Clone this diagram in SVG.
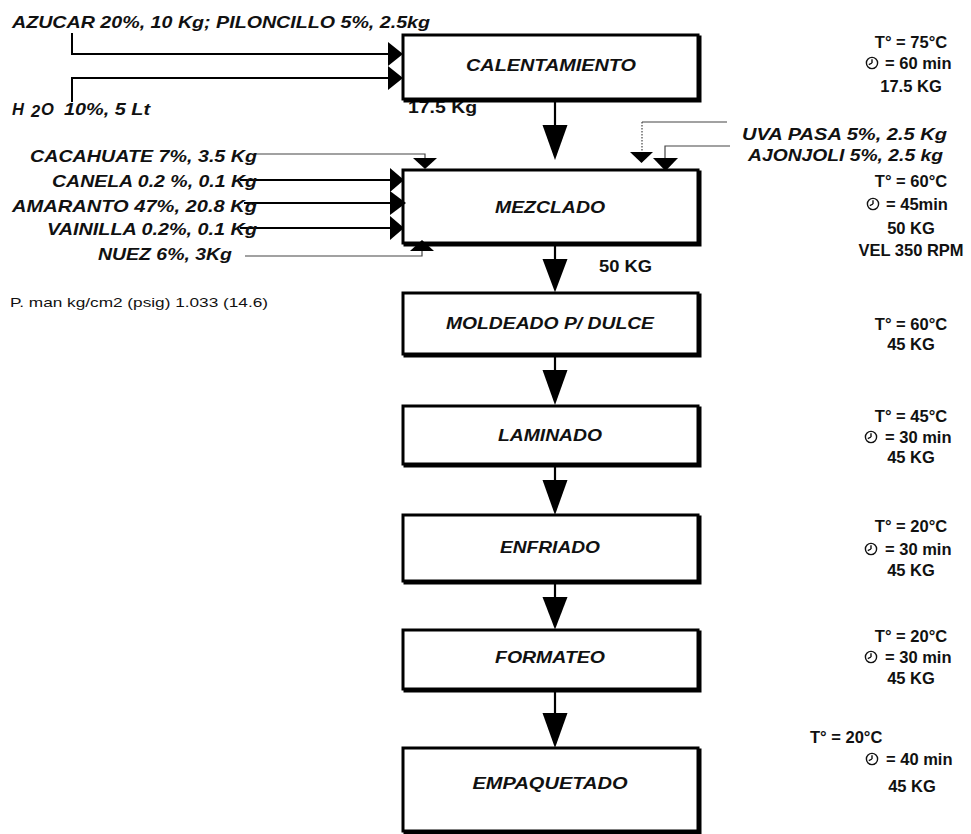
<svg xmlns="http://www.w3.org/2000/svg" xmlns:xlink="http://www.w3.org/1999/xlink" width="971" height="834" viewBox="0 0 971 834">
  <style>
    .bg { fill: #ffffff; }
    .frame { fill: #ffffff; stroke: #000; stroke-width: 3; }
    .shade { fill: none; stroke: #000; stroke-width: 3; }
    .title { font-family: "Liberation Sans", Arial, sans-serif; font-weight: bold; font-style: italic; font-size: 16px; fill: #111; text-anchor: middle; }
    .lbl { font-family: "Liberation Sans", Arial, sans-serif; font-weight: bold; font-style: italic; font-size: 16.5px; fill: #111; }
    .qty { font-family: "Liberation Sans", Arial, sans-serif; font-weight: bold; font-size: 16px; fill: #111; }
    .note { font-family: "Liberation Sans", Arial, sans-serif; font-weight: bold; font-size: 16.5px; fill: #111; text-anchor: middle; }
    .noteL { font-family: "Liberation Sans", Arial, sans-serif; font-weight: bold; font-size: 16.5px; fill: #111; }
    .small { font-family: "Liberation Sans", Arial, sans-serif; font-size: 13.5px; fill: #111; }
    .flow { stroke: #000; stroke-width: 2.2; fill: none; }
    .feed { stroke: #000; stroke-width: 2; fill: none; }
    .thin { stroke: #444; stroke-width: 1.2; fill: none; }
    .dot { stroke: #444; stroke-width: 1.2; fill: none; stroke-dasharray: 1.5 1.5; }
    .head { fill: #000; stroke: none; }
    .clock { fill: none; stroke: #111; stroke-width: 1.4; }
  </style>
  <defs>
    <polygon id="down" points="-12.5,0 12.5,0 0,35"/>
    <g id="clk" class="clock">
      <circle r="5.6"/>
      <path d="M0 0V-3.8M0 0L-3.2 1.7"/>
    </g>
  </defs>

  <rect class="bg" x="0" y="0" width="971" height="834"/>

  <!-- stream masses (drawn first so the block outline sits over the first one) -->
  <g id="masses">
    <text class="qty" x="408" y="113" textLength="69" lengthAdjust="spacingAndGlyphs">17.5 Kg</text>
    <text class="qty" x="599" y="272" textLength="53" lengthAdjust="spacingAndGlyphs">50 KG</text>
  </g>

  <!-- process blocks -->
  <g id="calentamiento">
    <rect class="shade" x="405" y="37" width="295" height="64"/>
    <rect class="frame" x="403" y="35" width="295" height="64"/>
    <text class="title" x="551" y="71" textLength="170" lengthAdjust="spacingAndGlyphs">CALENTAMIENTO</text>
  </g>
  <g id="mezclado">
    <rect class="shade" x="405" y="172" width="295" height="73"/>
    <rect class="frame" x="403" y="170" width="295" height="73"/>
    <text class="title" x="550" y="213" textLength="110" lengthAdjust="spacingAndGlyphs">MEZCLADO</text>
  </g>
  <g id="moldeado">
    <rect class="shade" x="405" y="295" width="295" height="61"/>
    <rect class="frame" x="403" y="293" width="295" height="61"/>
    <text class="title" x="550" y="329" textLength="208" lengthAdjust="spacingAndGlyphs">MOLDEADO P/ DULCE</text>
  </g>
  <g id="laminado">
    <rect class="shade" x="405" y="408" width="295" height="58"/>
    <rect class="frame" x="403" y="406" width="295" height="58"/>
    <text class="title" x="550" y="441" textLength="104" lengthAdjust="spacingAndGlyphs">LAMINADO</text>
  </g>
  <g id="enfriado">
    <rect class="shade" x="405" y="517" width="295" height="66"/>
    <rect class="frame" x="403" y="515" width="295" height="66"/>
    <text class="title" x="550" y="553" textLength="100" lengthAdjust="spacingAndGlyphs">ENFRIADO</text>
  </g>
  <g id="formateo">
    <rect class="shade" x="405" y="632" width="295" height="59"/>
    <rect class="frame" x="403" y="630" width="295" height="59"/>
    <text class="title" x="550" y="663" textLength="110" lengthAdjust="spacingAndGlyphs">FORMATEO</text>
  </g>
  <g id="empaquetado">
    <rect class="shade" x="405" y="750" width="295" height="83"/>
    <rect class="frame" x="403" y="748" width="295" height="83"/>
    <text class="title" x="550" y="789" textLength="155" lengthAdjust="spacingAndGlyphs">EMPAQUETADO</text>
  </g>

  <!-- connectors -->
  <g id="connectors">
    <!-- main flow -->
    <line class="flow" x1="555" y1="100" x2="555" y2="126"/>
    <use xlink:href="#down" class="head" transform="translate(555,125)"/>
    <line class="flow" x1="555" y1="244" x2="555" y2="260"/>
    <use xlink:href="#down" class="head" transform="translate(555,259) scale(1,0.95)"/>
    <line class="flow" x1="555" y1="355" x2="555" y2="371"/>
    <use xlink:href="#down" class="head" transform="translate(555,370)"/>
    <line class="flow" x1="555" y1="465" x2="555" y2="481"/>
    <use xlink:href="#down" class="head" transform="translate(555,480)"/>
    <line class="flow" x1="555" y1="582" x2="555" y2="598"/>
    <use xlink:href="#down" class="head" transform="translate(555,597) scale(1,0.93)"/>
    <line class="flow" x1="555" y1="690" x2="555" y2="714"/>
    <use xlink:href="#down" class="head" transform="translate(555,713)"/>

    <!-- feeds into heating -->
    <polyline class="feed" points="72,33 72,54 390,54"/>
    <polygon class="head" points="388,42 403,54 388,66"/>
    <polyline class="feed" points="72,102 72,78 390,78"/>
    <polygon class="head" points="388,66 403,78 388,90"/>

    <!-- feeds into mixing, left -->
    <polyline class="thin" points="253,154 425,154 425,159"/>
    <polygon class="head" points="413,158 437,158 425,169"/>
    <line class="feed" x1="240" y1="180" x2="392" y2="180"/>
    <polygon class="head" points="390,168 404,180 390,192"/>
    <line class="feed" x1="244" y1="203" x2="392" y2="203"/>
    <polygon class="head" points="390,191 406,203 390,215"/>
    <line class="feed" x1="240" y1="228" x2="392" y2="228"/>
    <polygon class="head" points="390,216 404,228 390,240"/>
    <polyline class="thin" points="245,256 422,256 422,250"/>
    <polygon class="head" points="410,251 434,251 422,240"/>

    <!-- feeds into mixing, right -->
    <line class="thin" x1="727" y1="122" x2="642" y2="122"/>
    <line class="dot" x1="642" y1="122" x2="642" y2="153"/>
    <polygon class="head" points="630,152 653,152 641.5,163"/>
    <polyline class="thin" points="730,146 665,146 665,159"/>
    <polygon class="head" points="653,158 678,158 665.5,171"/>
  </g>

  <!-- raw material labels -->
  <g id="inputs">
    <text class="lbl" x="12" y="28" textLength="418" lengthAdjust="spacingAndGlyphs">AZUCAR 20%, 10 Kg; PILONCILLO 5%, 2.5kg</text>
    <text class="lbl" x="12" y="115">H</text>
    <text class="lbl" x="31" y="117" font-size="11">2</text>
    <text class="lbl" x="41" y="115">O</text>
    <text class="lbl" x="64" y="115" textLength="86" lengthAdjust="spacingAndGlyphs">10%, 5 Lt</text>
    <text class="lbl" x="30" y="162" textLength="227" lengthAdjust="spacingAndGlyphs">CACAHUATE 7%, 3.5 Kg</text>
    <text class="lbl" x="52" y="187" textLength="205" lengthAdjust="spacingAndGlyphs">CANELA 0.2 %, 0.1 Kg</text>
    <text class="lbl" x="12" y="212" textLength="245" lengthAdjust="spacingAndGlyphs">AMARANTO 47%, 20.8 Kg</text>
    <text class="lbl" x="47" y="235" textLength="210" lengthAdjust="spacingAndGlyphs">VAINILLA 0.2%, 0.1 Kg</text>
    <text class="lbl" x="98" y="260" textLength="134" lengthAdjust="spacingAndGlyphs">NUEZ 6%, 3Kg</text>
    <text class="lbl" x="742" y="140" textLength="205" lengthAdjust="spacingAndGlyphs">UVA PASA 5%, 2.5 Kg</text>
    <text class="lbl" x="748" y="161" textLength="195" lengthAdjust="spacingAndGlyphs">AJONJOLI 5%, 2.5 kg</text>
    <text class="small" x="10" y="307" textLength="258" lengthAdjust="spacingAndGlyphs">P. man kg/cm2 (psig) 1.033 (14.6)</text>
  </g>

  <!-- operating conditions -->
  <g id="cond-calentamiento">
    <text class="note" x="911" y="48">T° = 75°C</text>
    <use xlink:href="#clk" x="872" y="63"/>
    <text class="noteL" x="885" y="69">= 60 min</text>
    <text class="note" x="911" y="92">17.5 KG</text>
  </g>
  <g id="cond-mezclado">
    <text class="note" x="911" y="187">T° = 60°C</text>
    <use xlink:href="#clk" x="873" y="204"/>
    <text class="noteL" x="886" y="210">= 45min</text>
    <text class="note" x="911" y="234">50 KG</text>
    <text class="note" x="911" y="256">VEL 350 RPM</text>
  </g>
  <g id="cond-moldeado">
    <text class="note" x="911" y="330">T° = 60°C</text>
    <text class="note" x="911" y="350">45 KG</text>
  </g>
  <g id="cond-laminado">
    <text class="note" x="911" y="422">T° = 45°C</text>
    <use xlink:href="#clk" x="871" y="437"/>
    <text class="noteL" x="885" y="443">= 30 min</text>
    <text class="note" x="911" y="463">45 KG</text>
  </g>
  <g id="cond-enfriado">
    <text class="note" x="911" y="532">T° = 20°C</text>
    <use xlink:href="#clk" x="871" y="549"/>
    <text class="noteL" x="885" y="555">= 30 min</text>
    <text class="note" x="911" y="576">45 KG</text>
  </g>
  <g id="cond-formateo">
    <text class="note" x="911" y="642">T° = 20°C</text>
    <use xlink:href="#clk" x="871" y="657"/>
    <text class="noteL" x="885" y="663">= 30 min</text>
    <text class="note" x="911" y="684">45 KG</text>
  </g>
  <g id="cond-empaquetado">
    <text class="noteL" x="810" y="743">T° = 20°C</text>
    <use xlink:href="#clk" x="872" y="759"/>
    <text class="noteL" x="886" y="765">= 40 min</text>
    <text class="note" x="912" y="792">45 KG</text>
  </g>
</svg>
